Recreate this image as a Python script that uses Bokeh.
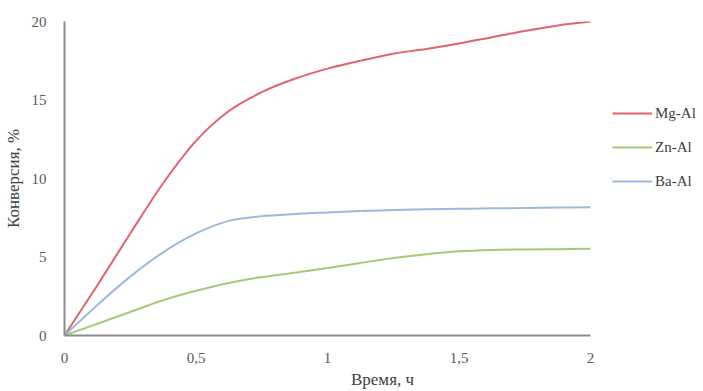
from bokeh.plotting import figure
from bokeh.models import Range1d, FixedTicker, Legend, LegendItem
from bokeh.embed import file_html
from bokeh.resources import INLINE

# time, h
time_h = [0, 0.125, 0.25, 0.375, 0.5, 0.625, 0.75, 0.875, 1.0,
          1.125, 1.25, 1.375, 1.5, 1.625, 1.75, 1.875, 2.0]
mg_al = [0, 3.2, 6.5, 9.7, 12.4, 14.3, 15.5, 16.35, 17.0,
         17.5, 17.95, 18.25, 18.6, 19.0, 19.4, 19.75, 20.0]
zn_al = [0, 0.75, 1.5, 2.25, 2.85, 3.35, 3.72, 4.0, 4.3,
         4.62, 4.93, 5.18, 5.36, 5.45, 5.48, 5.5, 5.52]
ba_al = [0, 1.95, 3.75, 5.3, 6.5, 7.3, 7.6, 7.74, 7.84,
         7.93, 7.99, 8.04, 8.07, 8.1, 8.12, 8.15, 8.17]

series_names = ["Mg-Al", "Zn-Al", "Ba-Al"]
series_colors = ["#E2636F", "#A7C977", "#9DB9DE"]

x_ticks = [0, 0.5, 1, 1.5, 2]
x_tick_labels = ["0", "0,5", "1", "1,5", "2"]
y_ticks = [0, 5, 10, 15, 20]

FONT = "Liberation Serif"


def smooth_segments(xs, ys, k=1.0 / 6.0):
    """Cubic Bezier control points (Catmull-Rom style smoothing) through the data."""
    n = len(xs)
    out = {"x0": [], "y0": [], "x1": [], "y1": [],
           "cx0": [], "cy0": [], "cx1": [], "cy1": []}
    for i in range(n - 1):
        xp, yp = (xs[i - 1], ys[i - 1]) if i > 0 else (xs[i], ys[i])
        xn, yn = (xs[i + 2], ys[i + 2]) if i + 2 < n else (xs[i + 1], ys[i + 1])
        out["x0"].append(xs[i]); out["y0"].append(ys[i])
        out["x1"].append(xs[i + 1]); out["y1"].append(ys[i + 1])
        out["cx0"].append(xs[i] + (xs[i + 1] - xp) * k)
        out["cy0"].append(ys[i] + (ys[i + 1] - yp) * k)
        out["cx1"].append(xs[i + 1] - (xn - xs[i]) * k)
        out["cy1"].append(ys[i + 1] - (yn - ys[i]) * k)
    return out


# frame spans 64..700 px; the data area (0..2 h) spans 64..590 px
p = figure(width=703, height=391, output_backend="svg", toolbar_location=None,
           x_range=Range1d(0, 2.418), y_range=Range1d(0, 20),
           min_border_left=64, min_border_right=3, min_border_top=21,
           min_border_bottom=55)
p.outline_line_color = None
p.xgrid.visible = False
p.ygrid.visible = False

items = []
for name, ys, col in zip(series_names, [mg_al, zn_al, ba_al], series_colors):
    seg = smooth_segments(time_h, ys)
    r = p.bezier(x0=seg["x0"], y0=seg["y0"], x1=seg["x1"], y1=seg["y1"],
                 cx0=seg["cx0"], cy0=seg["cy0"], cx1=seg["cx1"], cy1=seg["cy1"],
                 line_color=col, line_width=2)
    items.append(LegendItem(label=name, renderers=[r]))

for ax in (p.xaxis[0], p.yaxis[0]):
    ax.axis_line_color = "#8C8C8C"
    ax.axis_line_width = 2
    ax.major_tick_line_color = None
    ax.minor_tick_line_color = None
    ax.major_label_text_font = FONT
    ax.major_label_text_font_size = "15px"
    ax.major_label_text_color = "#595959"
    ax.axis_label_text_font = FONT
    ax.axis_label_text_font_size = "17px"
    ax.axis_label_text_font_style = "normal"
    ax.axis_label_text_color = "#404040"

p.xaxis.ticker = FixedTicker(ticks=x_ticks)
p.xaxis.bounds = (x_ticks[0], x_ticks[-1])
p.xaxis.major_label_overrides = {t: l for t, l in zip(x_ticks, x_tick_labels)}
p.xaxis.axis_label = "Время, ч"
p.xaxis.major_label_standoff = 11
p.xaxis.axis_label_standoff = 4

p.yaxis.ticker = FixedTicker(ticks=y_ticks)
p.yaxis.axis_label = "Конверсия, %"
p.yaxis.major_label_standoff = 12
p.yaxis.axis_label_standoff = 6

legend = Legend(items=items, location=(548, 144), orientation="vertical",
                label_text_font=FONT, label_text_font_size="15px",
                label_text_color="#404040", glyph_width=40, glyph_height=20,
                label_height=20, spacing=14, padding=4, margin=0,
                label_standoff=3, border_line_color=None,
                background_fill_alpha=0)
p.add_layout(legend, "center")

open("out.html", "w").write(file_html(p, INLINE))
